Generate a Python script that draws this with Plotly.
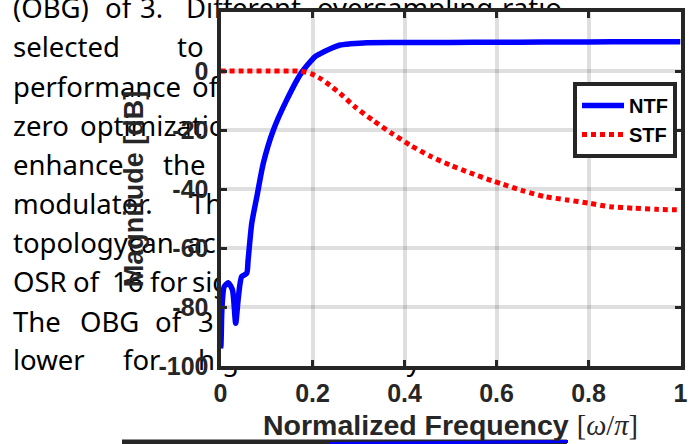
import plotly.graph_objects as go

W, H = 696, 444

# ---------------- chart data ----------------
ntf_freq = [0.0, 0.001, 0.003, 0.008, 0.017, 0.026, 0.033, 0.039, 0.046, 0.057,
            0.060, 0.068, 0.079, 0.093, 0.115, 0.144, 0.175, 0.205, 0.216, 0.240,
            0.260, 0.282, 0.318, 0.40, 0.50, 0.60, 0.70, 0.80, 0.90, 1.0]
ntf_db = [-94.0, -92.9, -81.0, -73.1, -71.8, -74.2, -85.5, -76.5, -69.7, -68.6,
          -64.1, -51.6, -42.6, -31.3, -20.0, -9.8, -0.8, 4.8, 5.8, 7.6,
          8.8, 9.2, 9.6, 9.65, 9.7, 9.75, 9.8, 9.85, 9.9, 9.9]

stf_freq = [0.0, 0.05, 0.10, 0.15, 0.172, 0.198, 0.22, 0.238, 0.26, 0.292,
            0.332, 0.372, 0.412, 0.455, 0.499, 0.542, 0.59, 0.61, 0.658, 0.705,
            0.753, 0.80, 0.847, 0.897, 0.948, 1.0]
stf_db = [0.0, 0.0, 0.0, 0.0, 0.0, -1.0, -2.8, -4.9, -7.6, -12.1,
          -16.8, -21.1, -25.1, -28.8, -31.9, -34.5, -37.2, -38.2, -40.6, -42.6,
          -43.7, -44.8, -46.0, -46.5, -46.9, -47.1]

x_tick_vals = [0, 0.2, 0.4, 0.6, 0.8, 1.0]
x_tick_text = ["0", "0.2", "0.4", "0.6", "0.8", "1"]
y_tick_vals = [-100, -80, -60, -40, -20, 0, 20]
y_tick_text = ["-100", "-80", "-60", "-40", "-20", "0", "20"]

series_names = ["NTF", "STF"]

# ---------------- surrounding page text (words, left-edge px, baseline px) ----------------
page_words = ["(OBG)", "of", "3.", "Different", "oversampling", "ratio",
              "selected", "to",
              "performance", "of",
              "zero", "optimization",
              "enhance", "the",
              "modulator.", "The",
              "topology", "can", "achieve",
              "OSR", "of", "16", "for", "signal",
              "The", "OBG", "of", "3",
              "lower", "for", "higher", "stability", "of", "the"]
word_left = [13, 105, 140, 186, 317, 502,
             13, 177,
             13, 192,
             13, 80,
             13, 163,
             13, 190,
             13, 128, 187,
             13, 73, 112, 150, 192,
             13, 80, 155, 198,
             13, 123, 198, 320, 459, 521]
word_base = [18] * 6 + [57] * 2 + [96.5] * 2 + [136] * 2 + [175] * 2 + [214] * 2 + \
            [253] * 3 + [292] * 5 + [331.5] * 4 + [370] * 6

TXT_FS = 27.5
word_y = [b - 0.25 * TXT_FS for b in word_base]

# geometry (pixels)
PL, PR, PT, PB = 220.5, 680.5, 12.0, 366.0
CLIP_L = 218.5

fig = go.Figure()

# page text, drawn in three clipped regions around the chart
for ax_suffix in ["", "2", "3"]:
    fig.add_trace(go.Scatter(
        x=word_left, y=word_y, text=page_words, mode="text",
        textposition="middle right",
        textfont=dict(family="Noto Sans", size=TXT_FS, color="#000000"),
        cliponaxis=True, hoverinfo="skip", showlegend=False,
        xaxis="x" + ax_suffix, yaxis="y" + ax_suffix))

fig.add_trace(go.Scatter(
    x=ntf_freq, y=ntf_db, mode="lines", name=series_names[0],
    line=dict(color="#0000ff", width=5.5, shape="spline", smoothing=0.6),
    xaxis="x4", yaxis="y4"))
fig.add_trace(go.Scatter(
    x=stf_freq, y=stf_db, mode="lines", name=series_names[1],
    line=dict(color="#ff0000", width=5, dash="5px,4px", shape="spline", smoothing=0.6),
    xaxis="x4", yaxis="y4"))

hidden = dict(visible=False, fixedrange=True, showgrid=False, zeroline=False, automargin=False)
axis_col = "#262626"
tickfont = dict(family="Liberation Sans", size=25, color=axis_col, weight="bold")

fig.update_layout(
    template="none",
    width=W, height=H, autosize=False,
    font=dict(family="Liberation Sans", color=axis_col),
    margin=dict(l=0, r=0, t=0, b=0, pad=0),
    paper_bgcolor="white", plot_bgcolor="white",
    xaxis=dict(domain=[0, CLIP_L / W], range=[0, CLIP_L], anchor="y", **hidden),
    yaxis=dict(domain=[0, 1], range=[H, 0], anchor="x", **hidden),
    xaxis2=dict(domain=[CLIP_L / W, 1], range=[CLIP_L, W], anchor="y2", **hidden),
    yaxis2=dict(domain=[(H - (PT - 2)) / H, 1], range=[PT - 2, 0], anchor="x2", **hidden),
    xaxis3=dict(domain=[CLIP_L / W, 1], range=[CLIP_L, W], anchor="y3", **hidden),
    yaxis3=dict(domain=[0, (H - (PB + 2)) / H], range=[H, PB + 2], anchor="x3", **hidden),
    xaxis4=dict(
        domain=[PL / W, PR / W], range=[0, 1], anchor="y4", automargin=False,
        tickvals=x_tick_vals, ticktext=x_tick_text,
        showgrid=True, gridcolor="rgba(38,38,38,0.15)", gridwidth=4,
        zeroline=False, showline=True, linecolor=axis_col, linewidth=4,
        mirror="allticks", ticks="inside", ticklen=6, tickwidth=3, tickcolor=axis_col,
        tickfont=tickfont, ticklabelstandoff=2,
        title=dict(text="<b>Normalized Frequency</b> <span style='font-family:Liberation Serif'>[<i>ω</i>/<i>π</i>]</span>",
                   font=dict(family="Liberation Sans", size=28.5, color=axis_col),
                   standoff=10),
        fixedrange=True),
    yaxis4=dict(
        domain=[(H - PB) / H, (H - PT) / H], range=[-100, 20], anchor="x4", automargin=False,
        tickvals=y_tick_vals, ticktext=y_tick_text,
        showgrid=True, gridcolor="rgba(38,38,38,0.15)", gridwidth=4,
        zeroline=False, showline=True, linecolor=axis_col, linewidth=4,
        mirror="allticks", ticks="inside", ticklen=6, tickwidth=3, tickcolor=axis_col,
        tickfont=tickfont, ticklabelstandoff=3,
        title=dict(text="<b>Magnitude [dB]</b>",
                   font=dict(family="Liberation Sans", size=27, color=axis_col),
                   standoff=8),
        fixedrange=True),
    legend=dict(
        x=677 / W, xanchor="right", y=(H - 82) / H, yanchor="top",
        bgcolor="white", bordercolor=axis_col, borderwidth=4,
        font=dict(family="Liberation Sans", size=20, color="#000000", weight="bold"),
        tracegroupgap=0, itemwidth=42),
    shapes=[
        dict(type="rect", xref="paper", yref="paper",
             x0=122 / W, x1=567 / W, y0=0, y1=4.5 / H,
             fillcolor=axis_col, line=dict(width=0)),
        dict(type="line", xref="paper", yref="paper",
             x0=330 / W, x1=568 / W, y0=0.5 / H, y1=2.5 / H,
             line=dict(color="#0000ff", width=3)),
    ],
    showlegend=True,
)

fig.write_html("out.html", config={"displayModeBar": False},
               post_script="document.body.style.margin='0px';")
